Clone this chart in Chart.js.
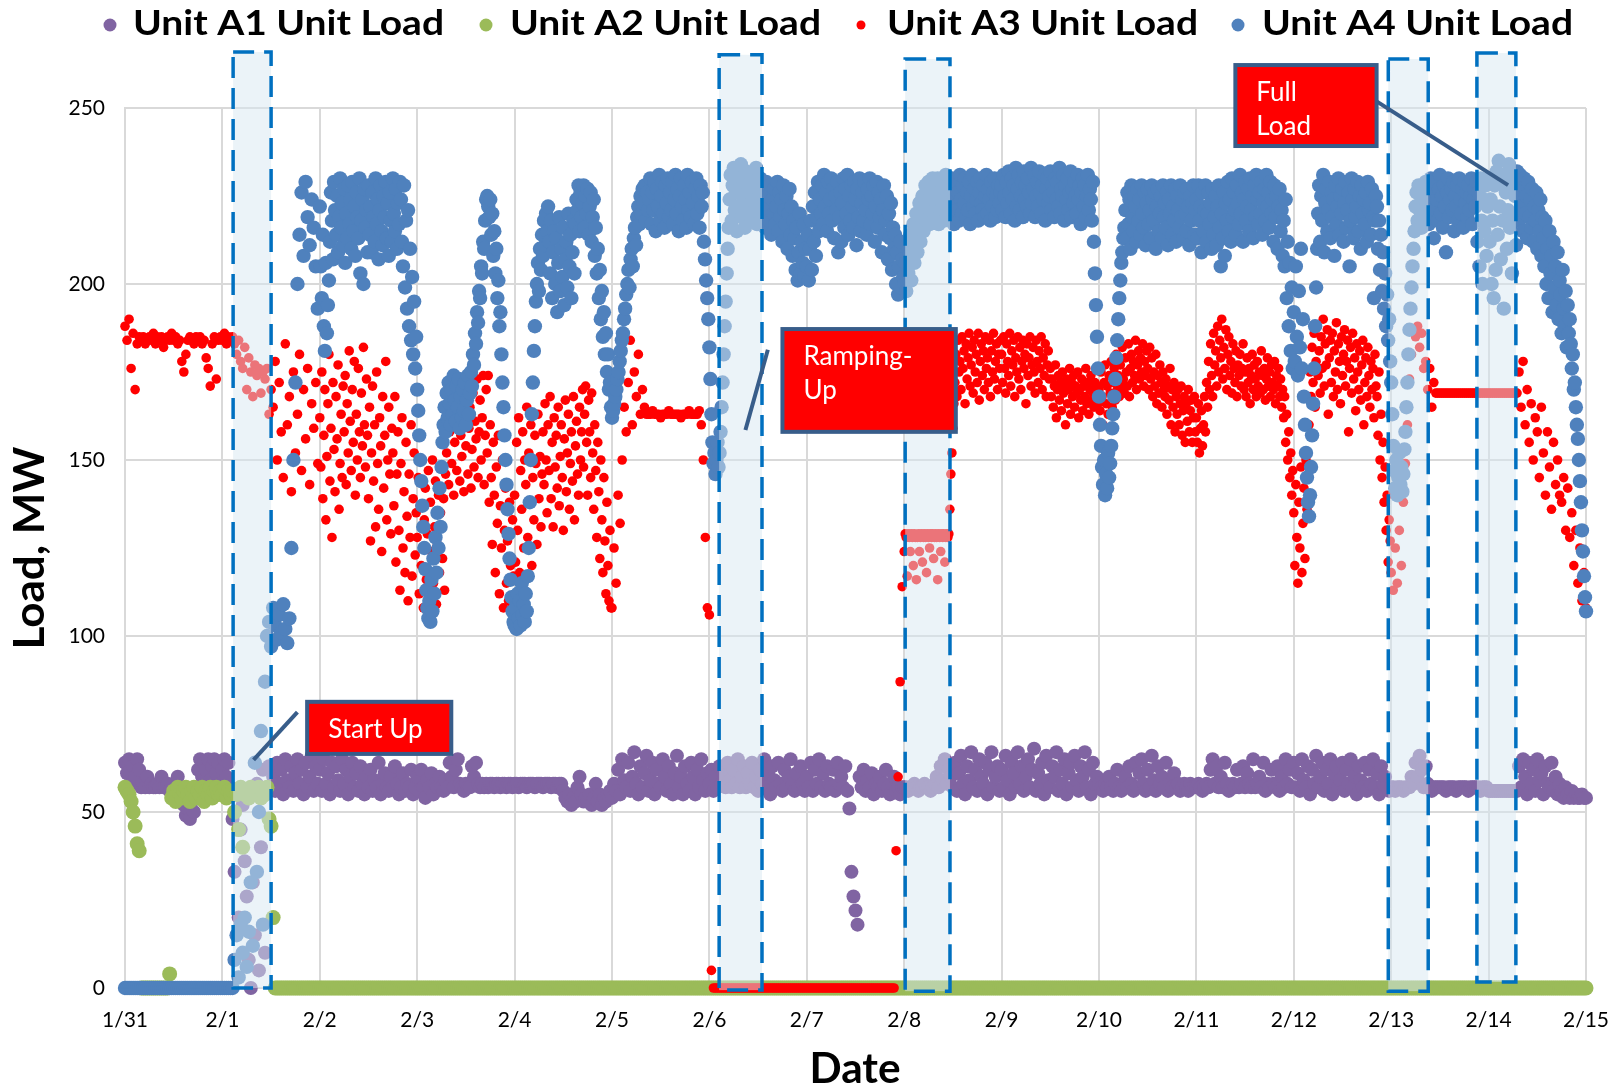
<!DOCTYPE html>
<html>
<head>
<meta charset="utf-8">
<title>Unit Load</title>
<script src="https://cdn.jsdelivr.net/npm/chart.js@4.4.1/dist/chart.umd.min.js"></script>
<style>
  html, body { margin: 0; padding: 0; background: #fff; }
  canvas { display: block; }
</style>
</head>
<body>
<canvas id="loadChart" width="1623" height="1088"></canvas>
<script>
// unit_load.js

// x axis: one tick per day
const dayLabels = ["1/31", "2/1", "2/2", "2/3", "2/4", "2/5", "2/6", "2/7", "2/8", "2/9", "2/10", "2/11", "2/12", "2/13", "2/14", "2/15"];
const yTicks = [0, 50, 100, 150, 200, 250];

const seriesNames = ["Unit A1 Unit Load", "Unit A2 Unit Load", "Unit A3 Unit Load", "Unit A4 Unit Load"];

// One row per day; readings are evenly spaced through the day
// (48 per row = half-hourly, 96 per row = every 15 min).

// a full day at zero load
const offDay = [0,0,0,0,0,0,0,0,0,0,0,0,0,0,0,0,0,0,0,0,0,0,0,0,0,0,0,0,0,0,0,0,0,0,0,0,0,0,0,0,0,0,0,0,0,0,0,0];

// Unit A1 load, MW
const unitA1 = [
  [64,61,65,58,63,60,65,62, 57,58,57,60,57,58,57,57, 58,57,60,57,57,58,56,57, 58,57,60,57,55,52,49,51, 48,53,50,57,62,65,60,64, 62,65,59,63,65,61,64,58],
  [62,65,60,64,57, 48,33,55,20,45,52,36,26, 8,0,30,15,58,5,40,62, 10,56,63,57, 60,56,64,58,62,55,65,59,57,63,56,61, 65,58,62,55,64,57,60,66,56,63,58],
  [62,56,65,58,61,55,64,57,63,59,56,65, 58,62,55,60,64,57,61,56,63,58,55,60, 57,62,56,59,57,64,55,58,61,57,56,60, 57,63,58,55,57,61,56,58,57,62,55,57],
  [60,56,62,57,54,59,57,61,55,58,57,60, 57,56,59,57,64,60,57,62,65,58,57,56, 58,57,57,63,60,64,58,57,58,57,58,57, 58,58,57,58,58,57,58,58,57,58,58,57],
  [58,58,57,58,58,58,57,58,58,58,57,58, 58,58,57,58,58,58,57,58,58,57,58,58, 56,54,53,55,52,54,53,57,60,55,53,54, 53,55,52,54,58,53,55,52,54,53,55,56],
  [54,58,56,62,55,65,59,57,64,56,60,67, 58,55,63,57,61,66,56,59,64,55,62,58, 57,65,60,56,63,58,55,61,66,57,60,55, 63,58,56,64,60,55,62,57,65,59,56,61],
  [58,62,56,60,57,63,58,61,57,64,59,57, 62,58,65,57,60,63,57,61,58,64,57,60, 56,62,58,65,57,61,55,63,59,57,64,58, 56,62,57,60,65,58,56,61,57,63,58,56],
  [60,57,64,56,62,58,65,57,61,56,63,58, 57,62,56,64,58,60,57,63,56,51,33,26, 22,18,60,57,62,56,59,57,61,55,58,57, 60,56,58,62,57,55,58,60,56,57,55,57],
  [57,57,56,57,57,58,57,56,57,57,58,57, 57,56,57,58,60,57,63,59,65,58,62,60, 57,64,56,61,66,58,55,63,59,67,57,62, 56,65,60,58,64,55,62,67,57,60,63,56],
  [62,57,66,59,55,64,61,57,67,58,63,56, 60,65,57,62,68,56,61,58,64,55,66,59, 57,63,60,67,56,62,58,65,55,61,64,57, 66,59,56,63,60,67,57,62,55,64,58,60],
  [58,57,56,58,57,60,57,56,58,62,57,56, 57,60,57,63,58,56,64,57,61,65,58,56, 62,57,66,59,56,63,58,60,57,64,56,58, 57,61,57,58,56,57,58,57,56,58,57,57],
  [57,58,57,56,57,58,57,62,65,58,63,57, 60,57,64,58,56,57,58,57,62,57,58,63, 57,61,58,57,65,57,58,60,57,64,56,58, 57,62,58,57,63,56,60,57,65,58,62,57],
  [64,57,61,56,65,59,57,63,55,62,58,66, 57,60,64,56,62,58,65,55,61,63,57,59, 64,56,62,58,65,57,60,55,63,59,57,64, 56,62,58,65,57,61,55,63,58,60,57,56],
  [57,57,56,57,57,57,56,57,57,57,60,58, 64,60,66,62,57,63,58,57,56,57,57,57, 57,57,57,56,57,57,57,57,56,57,57,57, 57,57,56,57,57,57,57,57,56,57,57,57],
  [56,56,56,56,56,56,56,56,56,56,56,56, 56,56,56, 63,57,65,60,55,64,58,62,56,65,59,61,55,63,58,57,64,56,60,55,58, 56,54,57,55,54,56,54,55,54,54,55,54],
  [54],
];

// Unit A2 load, MW
const unitA2 = [
  [57,56,55,53,50,46,41,39, 0,0,0,0,0,0,0,0,0,0,0,0,0,0, 4,54, 56,53,57,55,54,56,57,55,53,56,57,54,56,55,57,53,56,55,57,54,56,57,55,56],
  [55,57,54,56,55, 56,50,55,45,57,40,55,56,54,57,55,56,55,57,54,56,55,57,48,46, 20,0, 0,0,0,0,0,0,0,0,0,0,0,0,0,0,0,0,0,0,0,0,0],
  offDay, offDay, offDay, offDay, offDay, offDay, offDay,
  offDay, offDay, offDay, offDay, offDay, offDay,
  [0],
];

// Unit A3 load, MW
const unitA3 = [
  [188,184,190,176,186,170,183,185,184,185,183,184, 185,184,186,183,185,184,185,182,184,185,184,186, 184,185,183,184,178,175,180,184,185,184,183,185, 184,185,183,184,179,176,171,183,185,173,184,185],
  [184,186,183,185,184, 185,183,180,184,178,176,182,170,179,175,168,177,174,176,169,175,173,176,163,170, 165,178,150,172,158,145,183,160,168,141,175,152, 163,180,147,170,156,176,143,166,159,172,149],
  [162,148,175,139,157,170,133,151,166,180,144,159,128,172,153,141,168,156,177,136,149,163,145,171,
   158,174,143,166,152,181,161,147,170,155,178,140,163,150,176,158,145,169,154,182,160,148,173,157,
   139,165,127,152,171,144,160,131,175,149,136,162,154,124,168,142,157,178,133,150,165,146,129,159,
   152,137,168,121,146,158,130,113,149,162,125,141,118,155,134,110,146,128,160,117,139,152,123,135],
  [128,145,112,137,120,150,108,133,142,116,129,147,110,138,124,150,115,131,144,109,126,140,118,135,148,122,139,113,146,
   152,166,143,158,171,149,162,140,155,174,147,160,168,144,157,151,170,141,163,154,172,146,159,165,142,153,169,148,161,156,173,145,158,167,150,162,174,143,157,
   170,152,174,138,160,145,126,155,140,118,148,132,157,112,137,125,150,108,130,142,115,127,110,138,120,108,133,117],
  [140,121,155,130,162,118,147,136,158,125,150,143,165,128,152,138,160,120,145,133,157,149,126,163,139,151,131,146,158,
   143,166,150,135,160,147,168,139,155,131,162,148,157,142,165,137,151,160,145,130,156,167,141,152,163,136,149,158,144,168,133,154,161,146,140,165,150,158,170,
   148,163,171,155,140,167,158,145,169,152,136,160,147,128,155,141,122,150,133,118,145,127,112,138,120,110,130,108],
  [108,125,115,140,132,150,165,158,172,184,160,175, 168,180,163,170,165,163, 163,163,164,163,163,163,162,163,163,163,164,163,163,163,163,163,162,163,163,163,164,163,163,163, 163,164,160,150,128,108],
  [106,5, 0,0,0,0,0,0,0,0,0,0,0,0,0,0,0,0,0,0,0,0,0,0,0,0,0,0,0,0,0,0,0,0,0,0,0,0,0,0,0,0,0,0,0,0,0,0],
  [0,0,0,0,0,0,0,0,0,0,0,0,0,0,0,0,0,0,0,0,0,0,0,0,0,0,0,0,0,0,0,0,0,0,0,0,0,0,0,0,0,0,0,0, 39,60,87,114],
  [124,129,128,117,129,128,124,129,128,120,129,128,116,128,129,124,128,129,121,128,129,128,118,129,128,125,129,128,129,122,128,129,128,116,129,128,124,129,128,129,121,128,129,128,129,
   136,146,152,159,166,
   172,180,168,184,175,178,170,185,176,181,166,183,173,179,186,171,177,182,169,184,175,180,172,186,167,178,183,174,181,170,185,176,179,172,184,168,181,175,186,173,178,183,170,180,176,184],
  [180,172,185,176,169,183,178,174,186,171,181,177,184,168,179,175,185,173,182,170,178,184,176,180,166,183,174,179,185,171,177,182,175,169,184,178,172,181,176,185,170,179,174,183,168,177,181,173,
   176,168,173,165,171,177,162,170,174,167,172,164,175,169,171,160,173,166,170,176,163,172,168,174,165,171,169,175,162,170,167,173,164,171,168,176,166,172,163,170,174,167,169,165,172,168,171,166],
  [170,164,175,168,160,172,177,166,171,163,174,169,178,165,172,176,167,180,170,174,168,177,171,182,173,169,179,175,171,183,168,176,180,172,178,174,184,170,177,181,173,179,175,183,171,178,174,181,
   176,170,182,173,179,168,175,171,180,166,174,169,177,172,165,175,170,168,173,163,171,167,176,160,170,165,172,158,168,163,170,160,166,171,157,164,168,155,166,161,170,158,164,167,155,162,168,158],
  [162,155,166,152,159,164,154,160,168,158,
   172,165,178,170,183,174,168,186,177,181,171,188,175,184,179,190,173,182,176,187,170,180,185,174,178,169,183,176,172,181,168,177,174,180,171,176,183,170,
   175,168,179,172,176,166,174,180,170,177,173,168,178,171,175,169,181,174,170,176,167,173,179,171,175,168,177,172,170,178,166,174,171,176,168,173,165,170,
   162,168,155,163,150,158,145,152,140,147],
  [135,120,143,128,115,138,125,148,118,132,142,122,150,136,145,
   160,175,168,182,172,186,165,178,188,174,181,169,185,176,190,171,183,177,187,163,179,184,172,186,168,181,175,189,170,183,178,166,185,174,180,187,171,178,184,158,176,182,169,186,173,179,164,183,175,170,181,167,177,184,160,172,179,168,182,174,165,178,170,176,162,180,171,
   168,157,175,150,163,145,155,138,148,130,140,121,133,127],
  [118,113,125,115,130,120,138,149,160,173,180,187, 185,188,182,186,176,178, 170,176,165,172,169, 169,169,169,169,169,169,169,169,169,169,169,169,169,169,169,169,169,169,169,169,169,169,169,169,169],
  [169,169,169,169,169,169,169,169,169,169,169,169,169,169,169, 175,165,178,160,170,155,166,150,162,158,145,165,152,140,158,148,136,155,143,150,140, 138,145,130,142,128,135,120,130,115,125,110,118],
  [108],
];

// Unit A4 load, MW
const unitA4 = [
  offDay,
  [0,0,0,0,0, 0,8,15,3,18,10,20,6,16, 30,12,64,33,50,73,18,87,100,104,97, 108,103,99,106,101,109,102,98,105, 125,150,172, 200,214,226,208,229,219,211,224,216,205,193],
  [222,205,196,214,188,181,206,186,194,201,
   212,226,218,207,229,221,214,225,209,219,230,216,223,211,227,206,220,213,228,217,224,210,229,215,222,208,226,219,213,230,203,218,224,200,227,216,221,209,
   228,214,222,209,226,219,212,230,217,224,207,221,228,215,211,225,219,229,213,223,208,226,218,212,230,220,215,227,210,223,217,229,
   224,212,205,228,199,218,193,221,188,210,184,202,180,195,176,185],
  [170,164,157,150,144,137,131,125,119,113,108,105,110,104,116,107,122,112,128,118,135,125,142,131,
   148,155,160,165,158,169,162,172,166,160,170,163,174,167,161,171,165,173,159,168,162,170,164,172,160,167,174,163,169,
   175,171,180,177,186,183,192,189,198,196,205,203,212,210,218,224,
   225,222,219,224,214,220,208,215,
   203,210,196,201,188,192,180,172,165,157,150,143,136,129,122,116,111,107,104],
  [103,108,102,112,105,110,103,115,106,109,104,112,107,117,
   125,138,150,163,172,181,188,195,200,206,198,210,204,214,208,218,211,220,215,222,
   212,203,218,196,209,215,200,213,192,206,219,198,210,202,216,194,207,212,199,220,205,214,196,209,218,203,
   217,224,221,228,215,226,219,223,228,216,225,220,227,214,222,226,212,219,224,208,216,203,
   210,196,204,190,198,185,192,180,186,175,180,170,172,165],
  [162,164,166,168,170,173,175,178,181,184,
   186,190,193,197,200,204,199,207,210,205,213,216,211,219,222,217,225,220,227,223,228,218,226,221,
   224,230,217,226,221,229,215,227,222,231,218,225,229,220,216,228,223,230,219,226,221,229,217,224,231,220,227,215,
   225,230,222,218,228,224,216,231,221,226,219,229,223,217,227,230,220,225,216,228,222,226,212,
   207,201,196,190],
  [182,173,163,155,149,152,146,150,155,148,
   152,158,165,172,180,188,195,203,210,216,
   224,231,218,228,233,221,226,215,230,222,227,234,219,225,229,216,232,223,228,220,226,231,218,224,229,221,233,217,227,225,230,222,
   219,227,223,216,229,221,225,218,228,214,224,220,227,217,222,229,215,226,219,224,212,228,221,217,225,210,220,227,214,222,208,218,
   213,204,216,201,209,220,203,212,206,217,202,210],
  [205,214,201,210,218,204,222,212,226,208,219,229,215,224,220,
   228,217,231,222,226,215,229,220,224,230,218,227,213,225,221,229,209,219,226,212,223,230,216,227,220,231,214,225,218,228,222,216,
   229,224,211,227,219,230,215,223,226,218,229,221,214,227,224,230,217,225,220,228,212,222,229,216,226,219,224,209,221,228,214,218,
   225,207,220,213,223,204,216,210,
   214,200,209,197,205,212,199,207,202],
  [200,206,198,211,203,208,214,201,210,217,206,213,220,209,216,223,212,219,225,215,222,228,218,224,229,217,226,221,230,
   224,219,228,222,230,217,226,221,229,223,218,227,231,220,225,228,219,224,230,222,217,227,229,221,226,218,231,224,220,228,223,230,
   219,226,221,229,217,225,231,222,227,220,224,229,218,226,230,223,221,228,219,225,231,220,227,224,218,229,222,226,230,219,225,221,
   228,223,226],
  [228,221,231,225,219,229,223,232,226,220,230,224,228,218,233,222,227,231,221,225,229,219,232,224,228,222,230,226,220,233,223,227,
   231,219,225,229,222,232,226,220,228,224,231,218,227,230,223,225,232,221,228,226,219,230,224,229,222,233,220,227,225,231,218,228,
   224,230,221,226,232,219,227,223,229,225,220,231,224,228,217,226,230,222,228,219,225,231,221,227,224,218,229,
   212,203,194,185,176],
  [168,160,154,148,143,150,140,146,142,152,
   145,149,154,159,163,168,173,179,184,190,196,201,206,209,213,216,
   221,213,226,217,224,210,228,219,215,225,222,212,227,218,224,214,228,220,216,226,211,223,227,217,221,213,228,224,218,226,210,222,
   227,215,220,225,213,228,219,223,216,226,211,224,220,228,214,222,218,227,212,225,221,216,228,219,224,213,226,220,215,227,222,211,
   225,218,223,228,214,221],
  [224,213,228,218,222,209,226,215,221,228,212,220,226,217,223,210,227,214,219,225,211,222,228,216,205,220,213,226,208,223,218,229,
   215,224,212,230,219,226,221,214,228,223,217,231,220,226,212,224,229,218,222,227,215,230,221,225,213,228,219,231,224,217,226,220,
   229,214,223,227,218,231,222,226,216,229,220,224,212,228,219,225,210,222,227,215,221,208,
   218,205,224,196,212,188,206,181,199,176],
  [192,178,205,185,174,198,182,210,176,190,
   168,160,152,145,138,134,140,148,157,166,176,188,199,210,
   220,228,212,225,218,231,209,223,227,215,221,229,213,226,219,224,208,228,217,222,230,214,225,220,227,212,223,229,216,221,226,205,
   218,230,224,213,227,219,222,229,215,225,210,228,220,224,217,226,212,229,221,223,214,227,219,196,218,225,
   222,210,218,204,214,198,209,193,203,188,197,184,190,178],
  [172,163,154,147,142,150,140,145,152,143,148,141,146,153,
   158,165,172,180,187,193,199,205,210,
   215,222,226,218,228,221,225,216,227,220,224,229,
   222,228,217,225,230,219,226,213,229,221,224,218,227,231,220,225,216,228,222,209,226,230,219,224,227,221,229,215,225,222,228,218,
   230,224,220,227,216,229,223,226,219,228,221,225,230,217,224,227,222,229,
   212,226,205,230,218,200,224,215,228,208,222],
  [230,212,224,200,218,196,228,204,232,214,235,222,207,229,218,193,231,226,210,221,234,216,228,203,230,219,225,211,232,
   226,218,231,222,228,215,230,220,225,213,229,219,224,216,227,212,222,218,226,210,221,215,224,208,219,
   213,205,218,200,210,196,215,203,208,192,212,199,205,194,209,190,201,197,186,204,193,188,198,182,194,186,190,
   183,176,180,170,172,165,160,156,150,144,138,130,124,117,111],
  [107],
];

// shaded event windows: [from day, to day, top MW, bottom MW]
const eventWindows = [
  [1.11, 1.50, 265.9, 0],
  [6.10, 6.54, 265.1, -0.6],
  [8.01, 8.47, 263.9, -0.9],
  [12.97, 13.38, 263.9, -0.9],
  [13.88, 14.28, 265.6, 1.7],
];

// callout boxes: box [left, top, right, bottom] and leader [from, to], in day / MW
const callouts = [
  { lines: ["Start Up"], box: [1.87, 81.3, 3.35, 66.5], leader: [[1.77, 78.4], [1.32, 64.8]] },
  { lines: ["Ramping-", "Up"], box: [6.75, 187.2, 8.53, 158.0], leader: [[6.60, 181.3], [6.37, 158.5]] },
  { lines: ["Full", "Load"], box: [11.40, 262.2, 12.85, 239.2], leader: [[12.81, 252.6], [14.20, 228.1]] },
];

const colors = ["#8064A2", "#9BBB59", "#FF0000", "#4F81BD"];
const radii = [7, 7.5, 4.8, 7.2];

function toPoints(rows) {
  const pts = [];
  rows.forEach((row, d) => {
    row.forEach((v, k) => pts.push({ x: d + k / row.length, y: v }));
  });
  return pts;
}

// squeeze or stretch a string to a given width
function fitText(ctx, text, x, y, width) {
  const w = ctx.measureText(text).width;
  ctx.save();
  ctx.translate(x, y);
  ctx.scale(width / w, 1);
  ctx.fillText(text, 0, 0);
  ctx.restore();
}

document.addEventListener("DOMContentLoaded", function () {
  const ctx = document.getElementById("loadChart").getContext("2d");

  // light boxes over the start-up and ramp periods
  const windowPlugin = {
    id: "eventWindows",
    afterDatasetsDraw(chart) {
      const { ctx, scales: { x, y } } = chart;
      ctx.save();
      eventWindows.forEach(([x0, x1, top, bottom]) => {
        const l = x.getPixelForValue(x0);
        const r = x.getPixelForValue(x1);
        const t = y.getPixelForValue(top);
        const b = y.getPixelForValue(bottom);
        ctx.fillStyle = "rgba(216, 232, 241, 0.5)";
        ctx.fillRect(l, t, r - l, b - t);
        ctx.setLineDash([21, 10]);
        ctx.lineWidth = 3.5;
        ctx.strokeStyle = "#0070C0";
        ctx.strokeRect(l, t, r - l, b - t);
      });
      ctx.restore();
    },
  };

  // callouts, legend and axis titles
  const decorPlugin = {
    id: "decor",
    afterDraw(chart) {
      const { ctx, scales: { x, y } } = chart;
      ctx.save();

      callouts.forEach((c) => {
        const [[ax, ay], [bx, by]] = c.leader;
        ctx.strokeStyle = "#385D8A";
        ctx.lineWidth = 4;
        ctx.beginPath();
        ctx.moveTo(x.getPixelForValue(ax), y.getPixelForValue(ay));
        ctx.lineTo(x.getPixelForValue(bx), y.getPixelForValue(by));
        ctx.stroke();

        const l = x.getPixelForValue(c.box[0]);
        const t = y.getPixelForValue(c.box[1]);
        const r = x.getPixelForValue(c.box[2]);
        const b = y.getPixelForValue(c.box[3]);
        ctx.fillStyle = "#FF0000";
        ctx.fillRect(l, t, r - l, b - t);
        ctx.strokeRect(l, t, r - l, b - t);

        ctx.fillStyle = "#FFFFFF";
        ctx.font = "26px Lato";
        ctx.textAlign = "left";
        ctx.textBaseline = "alphabetic";
        c.lines.forEach((line, i) => ctx.fillText(line, l + 21, t + 36 + i * 34));
      });

      // legend across the top
      const markerX = [110, 486, 861, 1238];
      const textX = [133, 510, 887, 1262];
      ctx.font = "bold 35px Lato";
      ctx.textAlign = "left";
      seriesNames.forEach((name, i) => {
        ctx.fillStyle = colors[i];
        ctx.beginPath();
        ctx.arc(markerX[i], 25, i === 2 ? 4.5 : 6.5, 0, Math.PI * 2);
        ctx.fill();
        ctx.fillStyle = "#000";
        fitText(ctx, name, textX[i], 35, 311);
      });

      // axis titles
      ctx.fillStyle = "#000";
      ctx.font = "bold 42px Lato";
      ctx.textAlign = "center";
      fitText(ctx, "Date", 855, 1083, 91);
      ctx.save();
      ctx.translate(44, 548);
      ctx.rotate(-Math.PI / 2);
      fitText(ctx, "Load, MW", 0, 0, 203);
      ctx.restore();

      ctx.restore();
    },
  };

  const series = [unitA1, unitA2, unitA3, unitA4];

  new Chart(ctx, {
    type: "scatter",
    data: {
      datasets: series.map((rows, i) => ({
        label: seriesNames[i],
        data: toPoints(rows),
        pointRadius: radii[i],
        pointBorderWidth: 0,
        pointBackgroundColor: colors[i],
        showLine: false,
        clip: 12,
        order: 3 - i, // later units drawn on top
      })),
    },
    options: {
      responsive: false,
      animation: false,
      events: [],
      layout: { padding: { top: 108, right: 37, bottom: 0, left: 0 } },
      plugins: {
        legend: { display: false },
        tooltip: { enabled: false },
      },
      scales: {
        x: {
          type: "linear",
          min: 0,
          max: 15,
          afterFit: (scale) => {
            scale.height = 100;
            scale.paddingLeft = 0;
            scale.paddingRight = 0;
          },
          afterBuildTicks: (scale) => {
            scale.ticks = dayLabels.map((_, i) => ({ value: i }));
          },
          ticks: {
            autoSkip: false,
            maxRotation: 0,
            padding: 20,
            color: "#000",
            font: { family: "Lato", size: 21 },
            callback: (v) => dayLabels[v],
          },
          grid: { color: "#D9D9D9", lineWidth: 2, drawTicks: false },
          border: { color: "#D9D9D9", width: 2 },
        },
        y: {
          min: 0,
          max: 250,
          afterFit: (scale) => { scale.width = 125; },
          afterBuildTicks: (scale) => {
            scale.ticks = yTicks.map((v) => ({ value: v }));
          },
          ticks: {
            padding: 20,
            color: "#000",
            font: { family: "Lato", size: 21 },
          },
          grid: { color: "#D9D9D9", lineWidth: 2, drawTicks: false },
          border: { color: "#D9D9D9", width: 2 },
        },
      },
    },
    plugins: [windowPlugin, decorPlugin],
  });
});
</script>
</body>
</html>
